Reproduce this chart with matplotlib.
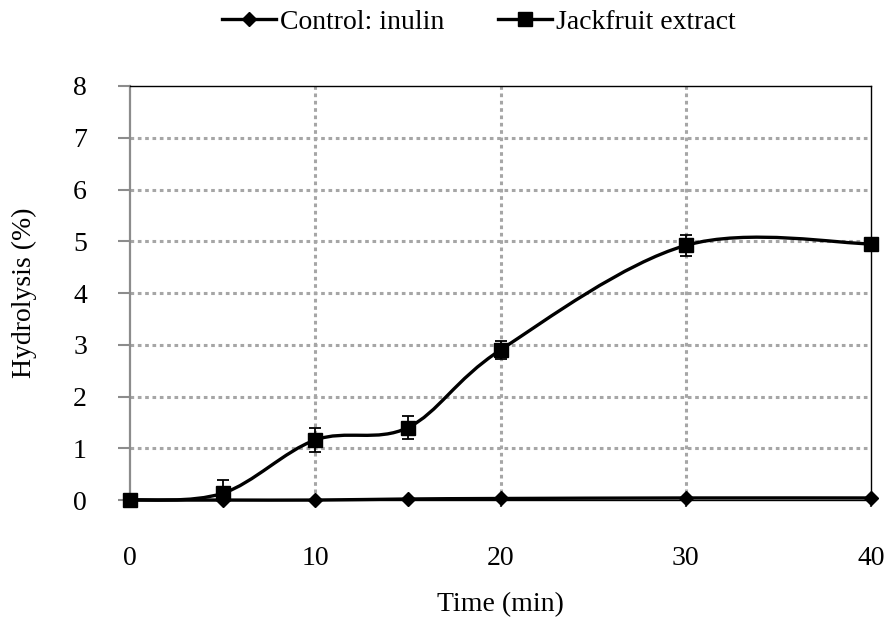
import matplotlib.pyplot as plt
import numpy as np
from matplotlib.path import Path
import matplotlib.patches as patches

plt.rcParams['font.family'] = ['Liberation Serif', 'DejaVu Serif']

time = [0, 5, 10, 15, 20, 30, 40]
control = [0.0, 0.0, 0.0, 0.02, 0.03, 0.04, 0.04]
jackfruit = [0.0, 0.13, 1.16, 1.40, 2.90, 4.92, 4.95]
jackfruit_err = [0.0, 0.25, 0.24, 0.22, 0.18, 0.20, 0.0]


def smooth_path(xs, ys):
    # Excel style smoothed line: Catmull-Rom as cubic Bezier
    pts = np.column_stack([xs, ys]).astype(float)
    verts = [pts[0]]
    codes = [Path.MOVETO]
    n = len(pts)
    for i in range(n - 1):
        p0 = pts[i - 1] if i > 0 else pts[i]
        p1 = pts[i]
        p2 = pts[i + 1]
        p3 = pts[i + 2] if i + 2 < n else pts[i + 1]
        c1 = p1 + (p2 - p0) / 6.0
        c2 = p2 - (p3 - p1) / 6.0
        verts += [c1, c2, p2]
        codes += [Path.CURVE4] * 3
    return Path(verts, codes)


fig = plt.figure(figsize=(8.85, 6.2), dpi=100)
ax = fig.add_axes([0.1469, 0.1935, 0.8373, 0.6678])

for x in [10, 20, 30]:
    ax.plot([x, x], [0, 8], color='#a6a6a6', lw=2.2, ls=(0, (1.2, 1.2)), zorder=1)
for y in range(1, 8):
    ax.plot([0, 40], [y, y], color='#a6a6a6', lw=2.2, ls=(0, (1.2, 1.2)), zorder=1)

for ys in [control, jackfruit]:
    p = patches.PathPatch(smooth_path(time, ys), facecolor='none', edgecolor='black',
                          lw=2.4, zorder=3, clip_on=False)
    ax.add_patch(p)

ax.errorbar(time, jackfruit, yerr=jackfruit_err, fmt='none', ecolor='black',
            elinewidth=1.3, capsize=4.5, capthick=1.3, zorder=4)
ax.plot(time, control, ls='none', marker='D', ms=7.5, color='black', zorder=5, clip_on=False)
ax.plot(time, jackfruit, ls='none', marker='s', ms=10, color='black', zorder=5, clip_on=False)

# legend proxies
ax.plot([], [], color='black', lw=2.4, marker='D', ms=7.5, label='Control: inulin')
ax.plot([], [], color='black', lw=2.4, marker='s', ms=10, label='Jackfruit extract')
fig.legend(loc='center', bbox_to_anchor=(0.541, 0.964), ncol=2, frameon=False,
           fontsize=20, handlelength=1.95, handletextpad=0.15, columnspacing=1.9,
           borderpad=0.1)

ax.set_xlim(0, 40)
ax.set_ylim(0, 8)
ax.set_xticks([0, 10, 20, 30, 40])
ax.set_yticks(range(0, 9))
ax.tick_params(axis='y', direction='out', length=9, width=1.5, color='#8c8c8c',
               labelsize=20, pad=22)
ax.tick_params(axis='x', direction='out', length=5, width=1.5, color='#404040',
               labelsize=20, pad=28)

ax.spines['left'].set_color('#8c8c8c')
ax.spines['left'].set_linewidth(1.6)
for s in ['top', 'right', 'bottom']:
    ax.spines[s].set_color('black')
    ax.spines[s].set_linewidth(1.0)

ax.set_xlabel('Time (min)', fontsize=20, va='center')
ax.xaxis.set_label_coords(0.5, -0.253)
ax.set_ylabel('Hydrolysis (%)', fontsize=20, va='center')
ax.yaxis.set_label_coords(-0.143, 0.5)

fig.savefig('out.png', dpi=100)
